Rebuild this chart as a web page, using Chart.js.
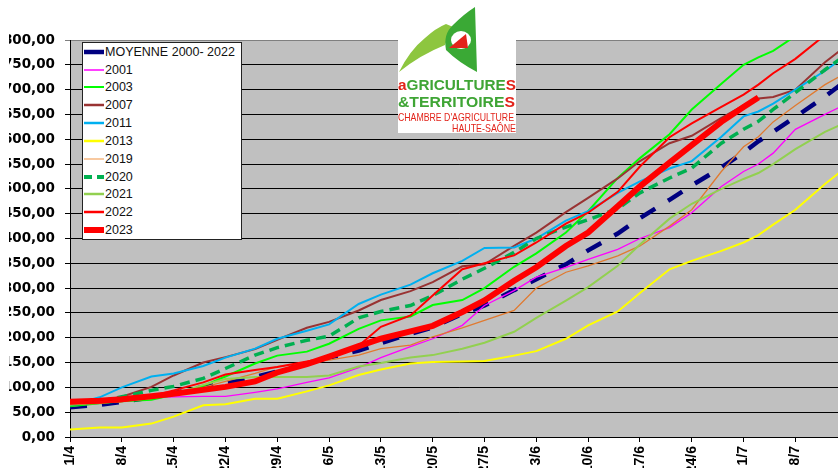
<!DOCTYPE html>
<html><head><meta charset="utf-8">
<script src="https://cdn.jsdelivr.net/npm/chart.js@4.4.0/dist/chart.umd.min.js"></script>
<style>
html,body{margin:0;padding:0;background:#fff;width:838px;height:468px;overflow:hidden;position:relative;}
#c{position:absolute;left:0;top:0;}
#crop{position:absolute;left:0;top:0;width:9px;height:468px;background:#fff;}
#legend{position:absolute;left:82px;top:42px;width:158px;height:196px;background:#fff;border:1px solid #222;}
.row{position:absolute;left:0;height:16px;width:158px;}
.row svg{position:absolute;left:1px;top:3px;}
.row span{position:absolute;left:22px;top:0;font:12.5px 'Liberation Sans',Arial,sans-serif;color:#111;line-height:16px;white-space:nowrap;}
#logo{position:absolute;left:398px;top:0;width:118px;height:133px;background:#fff;}
#logo svg{position:absolute;left:0;top:0;}
.lg{position:absolute;left:0;white-space:nowrap;line-height:1;transform-origin:left top;font-family:'Liberation Sans',Arial,sans-serif;}
.g{color:#3fa535}.r{color:#e2231a}
</style>
</head><body>
<canvas id="c" width="868" height="500"></canvas>
<div id="crop"></div>
<div id="legend"></div>
<div id="logo">
  <svg width="118" height="80" viewBox="0 0 118 80">
    <path d="M1,72 Q12,50 27,38 Q38,28 48,24 L60,29 Q52,33 50,37 L47,45 Q22,55 1,72 Z" fill="#8dc63f"/>
    <path d="M77,7 L79,72 Q60,62 48,50 Q45,34 55,25 Q66,14 77,7 Z" fill="#3aa935"/>
    <ellipse cx="63" cy="40" rx="10" ry="9" fill="#fff"/>
    <path d="M51,48 L68,34 L70,48 Z" fill="#e2231a"/>
  </svg>
  <div class="lg" id="l1" style="top:77px;font-weight:bold;font-size:15px;" data-w="118"><span class="r">a</span><span class="g">GRICULTURE</span><span class="r">S</span></div>
  <div class="lg" id="l2" style="top:94px;font-weight:bold;font-size:15px;" data-w="117"><span class="g">&amp;TERRITOIRE</span><span class="r">S</span></div>
  <div class="lg r" id="l3" style="top:112px;font-size:11px;" data-w="116">CHAMBRE D'AGRICULTURE</div>
  <div class="lg r" id="l4" style="top:123px;font-size:11px;" data-w="64" data-right="1">HAUTE-SAÔNE</div>
</div>
<script>
// ---- data ----
const days = [0,4,7,11,14,18,21,25,28,32,35,39,42,46,49,53,56,60,63,67,70,74,77,81,84,88,91,93,95,98,102,105];
const moyenne = [60,65,71,80,88,101,108,121,132,149,160,174,189,208,221,248,265,296,318,348,376,410,441,478,507,543,573,596,615,645,686,720];
const s2001 = [62,68,75,80,81,82,82,90,97,110,119,140,160,182,198,225,265,295,322,342,358,378,400,422,452,505,535,550,572,620,650,672];
const s2003 = [62,68,72,75,85,103,122,148,164,172,188,218,235,243,266,276,300,343,370,412,455,522,562,610,660,712,750,765,778,808,850,880];
const s2007 = [67,72,81,101,124,150,161,177,196,220,232,255,276,294,312,344,348,385,412,453,482,521,556,592,607,643,668,682,685,700,755,790];
const s2011 = [64,80,100,122,128,143,160,178,198,214,227,268,287,307,330,355,381,382,400,436,455,492,515,541,556,605,646,656,672,700,738,770];
const s2013 = [15,19,19,27,41,64,66,77,77,92,104,125,136,148,151,152,153,164,173,198,225,253,290,338,355,375,392,407,428,458,510,545];
const s2019 = [65,68,72,78,86,100,112,128,142,150,155,165,178,185,202,220,235,255,300,332,345,365,385,425,458,535,585,605,635,668,710,735];
const s2020 = [65,72,81,94,102,118,138,165,180,195,203,240,253,265,285,318,340,372,400,423,438,460,492,522,542,592,620,636,660,694,740,772];
const s2021 = [65,70,73,78,86,105,117,121,121,121,124,142,149,160,165,178,190,212,240,275,302,345,388,440,470,500,520,532,550,580,615,635];
const s2022 = [68,70,72,82,94,110,126,135,141,152,160,184,222,245,285,338,350,366,392,430,452,494,545,604,632,665,690,710,733,762,810,840];
const s2023 = [71,73,76,82,87,95,101,112,130,147,162,183,198,213,224,252,275,315,342,385,412,465,505,553,588,635,665,684,null,null,null,null];
const seriesNames = ['MOYENNE 2000- 2022','2001','2003','2007','2011','2013','2019','2020','2021','2022','2023'];
const yTicks = {min:0, max:800, step:50};
const xTicks = {min:0, max:105, step:7};

// ---- styles ----
const seriesData = [moyenne,s2001,s2003,s2007,s2011,s2013,s2019,s2020,s2021,s2022,s2023];
const styles = [
  {c:'#000080', w:4.5, dash:[17,15], lw:4.5},
  {c:'#ff00ff', w:1.3, lw:1.5},
  {c:'#00ff00', w:2, lw:2},
  {c:'#993333', w:2, lw:2.5},
  {c:'#00b0f0', w:2, lw:2.5},
  {c:'#ffff00', w:2, lw:2.5},
  {c:'#e07a30', w:1.3, lw:1.2, lc:'#f4a460'},
  {c:'#00b050', w:3.5, dash:[10,6], lw:4, ldash:'8 5'},
  {c:'#92d050', w:2, lw:2.5},
  {c:'#ff0000', w:2, lw:2.5},
  {c:'#ff0000', w:6, lw:6}
];

const fmtDate = v => { const d = new Date(2023, 3, 1 + v); return d.getDate() + '/' + (d.getMonth() + 1); };

const datasets = seriesData.map((arr, i) => ({
  label: seriesNames[i],
  data: days.map((d, k) => ({x: d, y: arr[k]})).filter(p => p.y !== null),
  borderColor: styles[i].c,
  borderWidth: styles[i].w,
  borderDash: styles[i].dash || [],
  pointRadius: 0,
  tension: 0,
  fill: false,
  order: seriesData.length - i
}));

const plotBg = {
  id: 'plotBg',
  beforeDraw(chart) {
    const {ctx, chartArea: a} = chart;
    ctx.save();
    ctx.fillStyle = '#c0c0c0';
    ctx.fillRect(a.left, a.top, a.right - a.left, a.bottom - a.top);
    ctx.restore();
  }
};

new Chart(document.getElementById('c'), {
  type: 'line',
  data: {datasets},
  plugins: [plotBg],
  options: {
    responsive: false,
    animation: false,
    layout: {padding: {top: 40, left: 0, right: 12, bottom: 0}},
    plugins: {legend: {display: false}, tooltip: {enabled: false}},
    scales: {
      x: {
        type: 'linear', min: xTicks.min, max: xTicks.max,
        afterFit: s => { s.height = 63; },
        ticks: {stepSize: xTicks.step, autoSkip: false, maxRotation: 90, minRotation: 90,
          color: '#000', padding: 4,
          font: {family: "'Liberation Sans', Arial, sans-serif", size: 14, weight: 'bold'},
          callback: v => fmtDate(v)},
        grid: {drawOnChartArea: false, drawTicks: true, tickLength: 5, color: '#000'},
        border: {color: '#000', width: 1}
      },
      y: {
        min: yTicks.min, max: yTicks.max,
        afterFit: s => { s.width = 70; },
        ticks: {stepSize: yTicks.step, color: '#000', padding: 10,
          font: {family: "'DejaVu Sans', sans-serif", size: 13.5, weight: 'bold'},
          callback: v => v.toFixed(2).replace('.', ',')},
        grid: {color: c => (c.tick && c.tick.value === yTicks.max) ? '#7f7f7f' : '#000', lineWidth: 1, tickLength: 5},
        border: {color: '#000', width: 1}
      }
    }
  }
});

// ---- HTML legend ----
const leg = document.getElementById('legend');
seriesNames.forEach((n, i) => {
  const st = styles[i];
  const row = document.createElement('div');
  row.className = 'row';
  row.style.top = (0.7 + i * 17.83) + 'px';
  const dash = st.ldash ? ` stroke-dasharray="${st.ldash}"` : '';
  row.innerHTML = `<svg width="20" height="10"><line x1="0" y1="5" x2="20" y2="5" stroke="${st.lc || st.c}" stroke-width="${st.lw}"${dash}/></svg><span>${n}</span>`;
  leg.appendChild(row);
});

// fit logo text lines to their widths
document.querySelectorAll('.lg').forEach(el => {
  const w = el.getBoundingClientRect().width;
  const target = +el.dataset.w;
  const k = target / w;
  el.style.transform = `scaleX(${k})`;
  if (el.dataset.right) el.style.left = (118 - target) + 'px';
});
</script>
</body></html>
